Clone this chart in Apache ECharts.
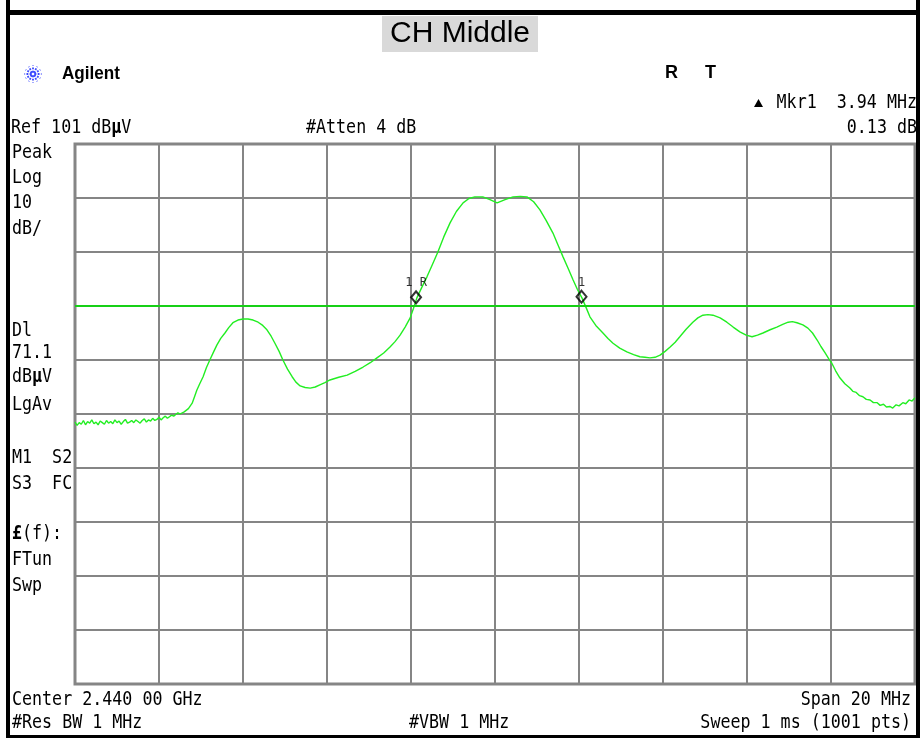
<!DOCTYPE html>
<html><head><meta charset="utf-8">
<script src="https://cdn.jsdelivr.net/npm/echarts@6/dist/echarts.min.js"></script>
<style>html,body{margin:0;padding:0;background:#fff}#c{width:920px;height:738px}</style>
</head><body><div id="c"></div>
<script>
// ---- data (frequency in MHz, level in dBµV) ----
const freqMHz = [
  2430.00,2430.05,2430.10,2430.15,2430.20,2430.25,2430.30,2430.35,2430.40,2430.45,
  2430.50,2430.55,2430.60,2430.65,2430.70,2430.75,2430.80,2430.85,2430.90,2430.95,
  2431.00,2431.05,2431.10,2431.15,2431.20,2431.25,2431.30,2431.35,2431.40,2431.45,
  2431.50,2431.55,2431.60,2431.65,2431.70,2431.75,2431.80,2431.85,2431.90,2431.95,
  2432.00,2432.05,2432.10,2432.15,2432.20,2432.25,2432.30,2432.35,2432.40,2432.45,2432.50,
  2432.60,2432.70,2432.79,2432.85,2432.90,2432.97,2433.05,2433.13,2433.21,2433.30,
  2433.38,2433.47,2433.57,2433.66,2433.76,2433.88,2434.00,2434.12,2434.24,2434.36,
  2434.47,2434.57,2434.67,2434.76,2434.86,2434.95,2435.06,2435.17,2435.26,2435.36,
  2435.48,2435.60,2435.72,2435.83,2435.95,2436.07,2436.28,2436.48,2436.67,2436.86,
  2437.03,2437.19,2437.35,2437.50,2437.62,2437.74,2437.86,2437.98,2438.06,2438.14,
  2438.26,2438.38,2438.51,2438.64,2438.78,2438.93,2439.08,2439.24,2439.38,2439.52,
  2439.71,2439.88,2440.05,2440.24,2440.43,2440.60,2440.76,2440.92,2441.07,2441.22,
  2441.38,2441.50,2441.62,2441.74,2441.86,2441.96,2442.07,2442.17,2442.26,2442.40,
  2442.57,2442.69,2442.81,2442.97,2443.14,2443.30,2443.45,2443.57,2443.69,2443.81,
  2443.93,2444.05,2444.17,2444.29,2444.40,2444.55,2444.71,2444.83,2444.95,2445.07,
  2445.19,2445.36,2445.52,2445.67,2445.83,2445.98,2446.12,2446.25,2446.38,2446.55,
  2446.71,2446.85,2446.98,2447.08,2447.19,2447.33,2447.45,2447.56,2447.67,2447.76,
  2447.86,2447.94,2448.02,2448.11,2448.21,2448.33,2448.45,2448.52,2448.60,2448.68,
  2448.76,2448.84,2448.93,2449.01,2449.10,2449.17,2449.25,2449.32,2449.40,2449.47,
  2449.55,2449.62,2449.71,2449.78,2449.86,2449.93,2450.00
];
const levelDbuV = [
  49.5,48.9,49.4,49.1,49.8,49.0,49.6,49.3,49.9,49.2,
  49.5,49.0,49.7,49.4,49.1,49.8,49.3,49.6,49.2,49.9,
  49.4,49.7,49.1,49.6,50.0,49.3,49.5,49.8,49.4,49.9,
  49.6,49.3,49.8,50.1,49.5,49.9,49.7,50.2,49.8,50.0,
  50.4,49.9,50.3,50.6,50.2,50.5,50.8,50.6,50.9,51.2,51.0,
  51.4,52.0,53.0,54.3,55.4,56.6,57.9,59.6,61.0,62.5,
  63.8,65.0,66.0,67.0,67.9,68.4,68.6,68.6,68.4,68.0,
  67.4,66.6,65.4,64.1,62.6,61.0,59.3,57.9,56.9,56.2,
  55.9,55.8,56.0,56.4,56.8,57.3,57.8,58.2,58.9,59.7,
  60.5,61.4,62.3,63.4,64.4,65.6,67.1,68.8,70.6,72.5,
  74.5,76.4,78.7,81.0,83.8,86.4,88.5,90.1,90.9,91.2,
  91.2,90.7,90.1,90.7,91.2,91.3,91.2,90.3,88.8,86.8,
  84.5,82.3,80.1,78.0,75.8,74.1,72.5,70.7,69.0,67.4,
  66.0,65.0,64.1,63.2,62.5,62.0,61.6,61.5,61.4,61.5,
  61.9,62.6,63.4,64.3,65.3,66.7,68.0,68.8,69.3,69.4,
  69.3,68.8,68.0,67.1,66.2,65.6,65.3,65.6,66.0,66.6,
  67.1,67.6,68.0,68.1,67.9,67.5,66.9,66.0,64.7,63.5,
  62.3,61.3,60.4,59.0,57.7,56.6,55.8,55.2,55.0,54.4,
  54.2,53.7,53.6,53.1,53.1,52.6,52.8,52.3,52.4,52.1,
  52.7,52.5,53.1,52.9,53.6,53.4,54.0
];
const displayLineDbuV = 71.1;
const markerFreqMHz = [2438.12, 2442.06];
const markerLevelDbuV = [72.6, 72.73];
const markerNames = ['1 R', '1'];
const refLevelDbuV = 101;
const dbPerDiv = 10;
const spanStartMHz = 2430;
const spanStopMHz = 2450;
const leftPanelLabels = ['Peak','Log','10','dB/','Dl','71.1','dB{b|µ}V','LgAv','M1  S2','S3  FC','{b|£}(f):','FTun','Swp'];
const leftPanelY = [153,178.5,203.5,229.5,331.5,353,377.5,405.5,458,484,534.5,560,586];

// ---- build ----
const chart = echarts.init(document.getElementById('c'), null, {renderer: 'canvas'});
const traceData = freqMHz.map((f, i) => [f, levelDbuV[i]]);
const markerData = markerFreqMHz.map((f, i) => ({value: [f, markerLevelDbuV[i]], name: markerNames[i]}));

const MONO = 'DejaVu Sans Mono';
const SY = 1.13;
function mono(text, x, y, align) {
  return {
    type: 'text', x: x, y: y, scaleY: SY, scaleX: 0.98, silent: true,
    style: {
      text: text, fill: '#000',
      fontFamily: MONO, fontSize: 17,
      textAlign: align || 'left', textVerticalAlign: 'middle',
      rich: {b: {fontFamily: MONO, fontSize: 17, fontWeight: 'bold', fill: '#000'}}
    }
  };
}
const graphics = [];
// frame
graphics.push({type:'rect', shape:{x:6,y:0,width:4,height:738}, style:{fill:'#000'}, silent:true});
graphics.push({type:'rect', shape:{x:6,y:10,width:914,height:5}, style:{fill:'#000'}, silent:true});
graphics.push({type:'rect', shape:{x:916,y:0,width:4,height:738}, style:{fill:'#000'}, silent:true});
graphics.push({type:'rect', shape:{x:6,y:735,width:914,height:3}, style:{fill:'#000'}, silent:true});
// logo star
for (let k = 0; k < 12; k++) {
  const a = k * Math.PI / 6;
  graphics.push({type:'line', silent:true,
    shape:{x1:33+1.5*Math.cos(a), y1:74+1.5*Math.sin(a), x2:33+8.5*Math.cos(a), y2:74+8.5*Math.sin(a)},
    style:{stroke:'#3a48ff', lineWidth:1.8, lineDash:[1.8,1.4]}});
}
graphics.push({type:'text', x:62, y:74, scaleX:0.95, silent:true,
  style:{text:'Agilent', fontFamily:'Liberation Sans', fontSize:18, fontWeight:'bold', fill:'#000', textVerticalAlign:'middle'}});
graphics.push({type:'text', x:665, y:73, silent:true,
  style:{text:'R', fontFamily:'Liberation Sans', fontSize:18, fontWeight:'bold', fill:'#000', textVerticalAlign:'middle'}});
graphics.push({type:'text', x:705, y:73, silent:true,
  style:{text:'T', fontFamily:'Liberation Sans', fontSize:18, fontWeight:'bold', fill:'#000', textVerticalAlign:'middle'}});
// marker readout
graphics.push({type:'polygon', silent:true, shape:{points:[[754,107],[763,107],[758.5,99]]}, style:{fill:'#000'}});
graphics.push(mono('Mkr1  3.94 MHz', 917, 103, 'right'));
graphics.push(mono('Ref 101 dB{b|µ}V', 11, 128));
graphics.push(mono('#Atten 4 dB', 306, 128));
graphics.push(mono('0.13 dB', 917, 128, 'right'));
leftPanelLabels.forEach((t, i) => graphics.push(mono(t, 12, leftPanelY[i])));
graphics.push(mono('Center 2.440 00 GHz', 12, 700));
graphics.push(mono('Span 20 MHz', 911, 700, 'right'));
graphics.push(mono('#Res BW 1 MHz', 12, 723.5));
graphics.push(mono('#VBW 1 MHz', 409, 723.5));
graphics.push(mono('Sweep 1 ms (1001 pts)', 911, 723.5, 'right'));

const GRID_COLOR = '#858585';
chart.setOption({
  animation: false,
  backgroundColor: '#fff',
  title: {
    text: 'CH Middle', left: 'center', top: 16,
    backgroundColor: '#d9d9d9', padding: [3, 8, 3, 8],
    textStyle: {fontFamily: 'Liberation Sans', fontSize: 30, fontWeight: 'normal', color: '#000', lineHeight: 30}
  },
  grid: {left: 75, top: 144, width: 840, height: 540, show: true, borderColor: GRID_COLOR, borderWidth: 3, backgroundColor: '#fff'},
  xAxis: {
    type: 'value', min: spanStartMHz, max: spanStopMHz, interval: (spanStopMHz - spanStartMHz) / 10,
    axisLine: {show: false}, axisTick: {show: false}, axisLabel: {show: false},
    splitLine: {show: true, lineStyle: {color: GRID_COLOR, width: 2}}
  },
  yAxis: [
    {type: 'value', min: refLevelDbuV - 10 * dbPerDiv, max: refLevelDbuV,
     axisLine: {show: false}, axisTick: {show: false}, axisLabel: {show: false}, splitLine: {show: false}},
    {type: 'value', min: 0, max: 10, interval: 1,
     axisLine: {show: false}, axisTick: {show: false}, axisLabel: {show: false},
     splitLine: {show: true, lineStyle: {color: GRID_COLOR, width: 2}}}
  ],
  series: [
    {
      type: 'line', yAxisIndex: 0, data: traceData, showSymbol: false, symbol: 'none',
      lineStyle: {color: '#22ee22', width: 1.4}, z: 3,
      markLine: {
        silent: true, symbol: 'none', animation: false,
        label: {show: false},
        lineStyle: {color: '#16d016', width: 2.2, type: 'solid'},
        data: [{yAxis: displayLineDbuV}]
      }
    },
    {
      type: 'scatter', yAxisIndex: 0, data: markerData, symbol: 'diamond', symbolSize: [10, 12], z: 5,
      itemStyle: {color: 'rgba(255,255,255,0)', borderColor: '#000', borderWidth: 2},
      label: {show: true, position: 'top', distance: 1, formatter: p => p.name,
        fontFamily: MONO, fontSize: 12, color: '#000'}
    }
  ],
  graphic: graphics
});
</script>
</body></html>
